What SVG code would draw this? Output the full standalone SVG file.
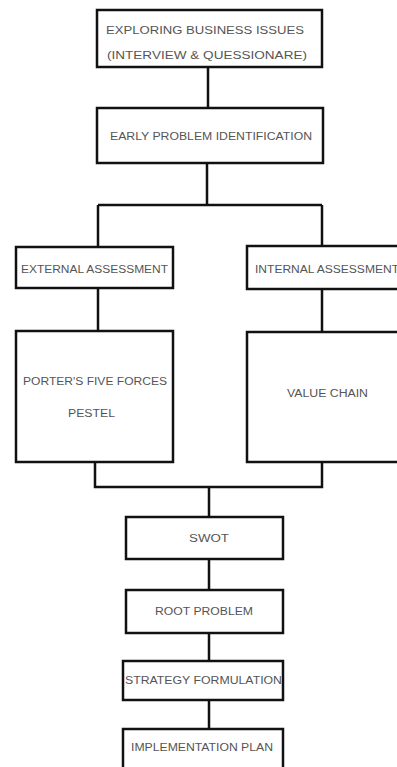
<svg xmlns="http://www.w3.org/2000/svg" width="397" height="767" viewBox="0 0 397 767">
<style>
.box{fill:#fff;stroke:#111;stroke-width:2.5}
.ln{fill:none;stroke:#111;stroke-width:2.5}
.t{font-family:"Liberation Sans",Arial,sans-serif;font-size:10px;fill:#555}
</style>
<rect width="397" height="767" fill="#fff"/>
<g id="connectors">
<path class="ln" d="M208 67V108"/>
<path class="ln" d="M207 163V205M98 205H322M98 205V247M322 205V246"/>
<path class="ln" d="M98 288V331M322 289V332"/>
<path class="ln" d="M95 462V487H322V462M209 487V517"/>
<path class="ln" d="M209 559V590M209 633V661M209 700V729"/>
</g>
<g id="n1"><rect class="box" x="97" y="10" width="225" height="57"/>
<text class="t" x="106" y="34" textLength="198" lengthAdjust="spacingAndGlyphs">EXPLORING BUSINESS ISSUES</text>
<text class="t" x="107" y="59" textLength="200" lengthAdjust="spacingAndGlyphs">(INTERVIEW &amp; QUESSIONARE)</text></g>
<g id="n2"><rect class="box" x="97" y="108" width="226" height="55"/>
<text class="t" x="110" y="140" textLength="202" lengthAdjust="spacingAndGlyphs">EARLY PROBLEM IDENTIFICATION</text></g>
<g id="n3"><rect class="box" x="16" y="247" width="157" height="41"/>
<text class="t" x="21" y="273" textLength="147" lengthAdjust="spacingAndGlyphs">EXTERNAL ASSESSMENT</text></g>
<g id="n4"><rect class="box" x="247" y="246" width="160" height="43"/>
<text class="t" x="255" y="273" textLength="144" lengthAdjust="spacingAndGlyphs">INTERNAL ASSESSMENT</text></g>
<g id="n5"><rect class="box" x="16" y="331" width="157" height="131"/>
<text class="t" x="23" y="385" textLength="144" lengthAdjust="spacingAndGlyphs">PORTER'S FIVE FORCES</text>
<text class="t" x="68" y="417" textLength="47" lengthAdjust="spacingAndGlyphs">PESTEL</text></g>
<g id="n6"><rect class="box" x="247" y="332" width="160" height="130"/>
<text class="t" x="287" y="397" textLength="81" lengthAdjust="spacingAndGlyphs">VALUE CHAIN</text></g>
<g id="n7"><rect class="box" x="126" y="517" width="157" height="42"/>
<text class="t" x="189" y="542" textLength="40" lengthAdjust="spacingAndGlyphs">SWOT</text></g>
<g id="n8"><rect class="box" x="126" y="590" width="157" height="43"/>
<text class="t" x="155" y="615" textLength="98" lengthAdjust="spacingAndGlyphs">ROOT PROBLEM</text></g>
<g id="n9"><rect class="box" x="123" y="661" width="160" height="39"/>
<text class="t" x="125" y="684" textLength="157" lengthAdjust="spacingAndGlyphs">STRATEGY FORMULATION</text></g>
<g id="n10"><rect class="box" x="123" y="729" width="160" height="40"/>
<text class="t" x="131" y="751" textLength="142" lengthAdjust="spacingAndGlyphs">IMPLEMENTATION PLAN</text></g>
</svg>
